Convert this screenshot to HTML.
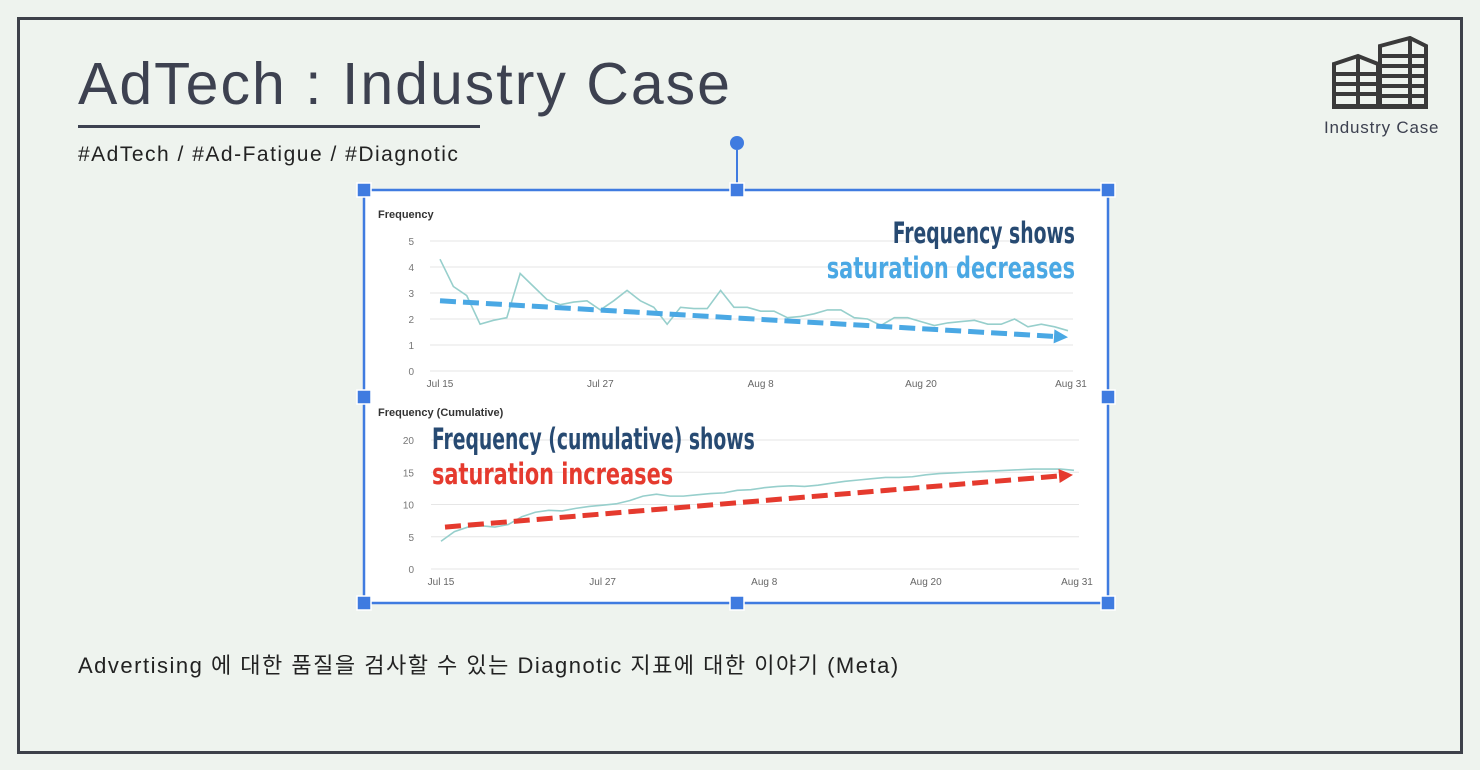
<!DOCTYPE html>
<html><head><meta charset="utf-8"><style>
body{margin:0;width:1480px;height:770px;background:#eef3ee;font-family:"Liberation Sans","Noto Sans CJK KR",sans-serif;overflow:hidden;position:relative}
.frame{position:absolute;left:17px;top:17px;width:1440px;height:731px;border:3px solid #3d4049}
.title{position:absolute;left:78px;top:50px;font-size:59px;color:#3d4150;letter-spacing:2px}
.uline{position:absolute;left:78px;top:125px;width:402px;height:3px;background:#3d4150}
.tags{position:absolute;left:78px;top:143px;font-size:21px;color:#222;letter-spacing:1.5px}
.desc{position:absolute;left:78px;top:648px;font-size:22px;color:#222;letter-spacing:1.5px}
.logo-t{position:absolute;left:1324px;top:118px;font-size:17px;color:#3d4150;letter-spacing:0.8px}
</style></head><body>
<div class="frame"></div>
<div class="title">AdTech : Industry Case</div>
<div class="uline"></div>
<div class="tags">#AdTech / #Ad-Fatigue / #Diagnotic</div>
<div class="desc">Advertising 에 대한 품질을 검사할 수 있는 Diagnotic 지표에 대한 이야기 (Meta)</div>
<svg style="position:absolute;left:1332px;top:36px" width="96" height="74">
<g fill="none" stroke="#3a3a3a" stroke-width="4">
<path d="M48 10 L78 2 L94 10 L94 70 L48 70Z"/><path d="M2 28 L26 20 L46 28 L46 70 L2 70Z"/>
<path d="M26 20 V70 M78 2 V70 M2 38H46 M2 48H46 M2 58H46 M48 20H94 M48 30H94 M48 40H94 M48 50H94 M48 60H94"/>
</g><rect x="0" y="68" width="96" height="5" fill="#3a3a3a"/></svg>
<div class="logo-t">Industry Case</div>
<svg id="ch" style="position:absolute;left:0;top:0" width="1480" height="770"></svg>
<script>
const NS="http://www.w3.org/2000/svg";
const days=["Jul 15","Jul 27","Aug 8","Aug 20","Aug 31"];
const dayIdx=[0,12,24,36,47];
const freq=[4.3,3.25,2.9,1.8,1.95,2.05,3.75,3.25,2.75,2.55,2.65,2.7,2.35,2.7,3.1,2.7,2.45,1.8,2.45,2.4,2.4,3.1,2.45,2.45,2.3,2.3,2.05,2.1,2.2,2.35,2.35,2.05,2.0,1.75,2.05,2.05,1.9,1.75,1.85,1.9,1.95,1.8,1.8,2.0,1.7,1.8,1.7,1.55];
const cum=[4.3,5.8,6.5,6.7,6.5,6.9,8.1,8.8,9.1,9.0,9.4,9.7,9.9,10.1,10.6,11.3,11.6,11.3,11.3,11.5,11.7,11.8,12.2,12.3,12.6,12.8,12.9,12.8,13.0,13.3,13.6,13.8,14.0,14.2,14.2,14.3,14.6,14.8,14.9,15.0,15.1,15.2,15.3,15.4,15.5,15.5,15.5,15.3];
const freqTicks=[0,1,2,3,4,5];
const cumTicks=[0,5,10,15,20];
const freqTrend=[2.7,1.3];
const cumTrend=[6.5,14.6];
const svg=document.getElementById('ch');
function el(t,a,p){const e=document.createElementNS(NS,t);for(const k in a)e.setAttribute(k,a[k]);(p||svg).appendChild(e);return e;}
let bg=el('rect',{x:364,y:190,width:744,height:413,fill:'#fff'});


function panel(o){
 const xs=i=>o.x0+(o.x1-o.x0)*i/47, ys=v=>o.y0-(o.y0-o.yTop)*v/o.max;
 const t=el('text',{x:378,y:o.ty,'font-size':11,'font-weight':'bold',fill:'#333'});t.textContent=o.title;
 
 
 o.ticks.forEach(v=>{el('line',{x1:o.x0-10,x2:o.x1+5,y1:ys(v),y2:ys(v),stroke:'#e6e6e6'});
  const l=el('text',{x:414,y:ys(v)+4,'font-size':10,fill:'#777','text-anchor':'end'});l.textContent=v;
  
  });
 days.forEach((d,k)=>{const l=el('text',{x:xs(dayIdx[k])+(k==4?3:0),y:o.y0+16,'font-size':10,fill:'#666','text-anchor':'middle'});l.textContent=d;
  
  });
 const ln=el('polyline',{points:o.data.map((v,i)=>xs(i)+','+ys(v)).join(' '),fill:'none',stroke:'#97cfcc','stroke-width':1.6});
 
 
 const ax=o.x0+o.tx[0],bx=o.x1+o.tx[1],ay=ys(o.trend[0]),by=ys(o.trend[1]);
 const ang=Math.atan2(by-ay,bx-ax),c=Math.cos(ang),s=Math.sin(ang);
 const tr=el('line',{x1:ax,y1:ay,x2:bx-12*c,y2:by-12*s,stroke:o.col,'stroke-width':5,'stroke-dasharray':'16 7'});
 
 
 el('polygon',{points:`${bx},${by} ${bx-14*c-7*s},${by-14*s+7*c} ${bx-14*c+7*s},${by-14*s-7*c}`,fill:o.col});
}
panel({name:'frequency',title:'Frequency',ty:218,x0:440,x1:1068,y0:371,yTop:241,max:5,ticks:freqTicks,data:freq,trend:freqTrend,tx:[0,0],col:'#4aa8e4'});
panel({name:'cumulative',title:'Frequency (Cumulative)',ty:416,x0:441,x1:1074,y0:569,yTop:440,max:20,ticks:cumTicks,data:cum,trend:cumTrend,tx:[4,-1],col:'#e53a2e'});
function txt(x,y,s,c,anchor,name,sx){const t=el('text',{x:x,y:y,'font-size':29,fill:c,'text-anchor':anchor,'font-family':'"DejaVu Sans Condensed","Liberation Sans Narrow",sans-serif','font-weight':'bold',transform:`translate(${x},0) scale(${sx},1) translate(${-x},0)`});t.textContent=s;
 
 return t;}
txt(1075,243,'Frequency shows','#274a72','end','annotation-top-1',0.72);
txt(1075,278,'saturation decreases','#4aa8e4','end','annotation-top-2',0.8);
txt(432,449,'Frequency (cumulative) shows','#274a72','start','annotation-bottom-1',0.72);
txt(432,484,'saturation increases','#e53a2e','start','annotation-bottom-2',0.8);
// selection frame
el('rect',{x:364,y:190,width:744,height:413,fill:'none',stroke:'#3f7be0','stroke-width':2.5});
el('line',{x1:737,y1:150,x2:737,y2:190,stroke:'#3f7be0','stroke-width':2});
el('circle',{cx:737,cy:143,r:7,fill:'#3f7be0'});
[[364,190],[737,190],[1108,190],[364,397],[1108,397],[364,603],[737,603],[1108,603]].forEach(p=>{
 const h=el('rect',{x:p[0]-7,y:p[1]-7,width:14,height:14,fill:'#3f7be0',stroke:'#fff','stroke-width':1.5});
 
 });
</script>
</body></html>
